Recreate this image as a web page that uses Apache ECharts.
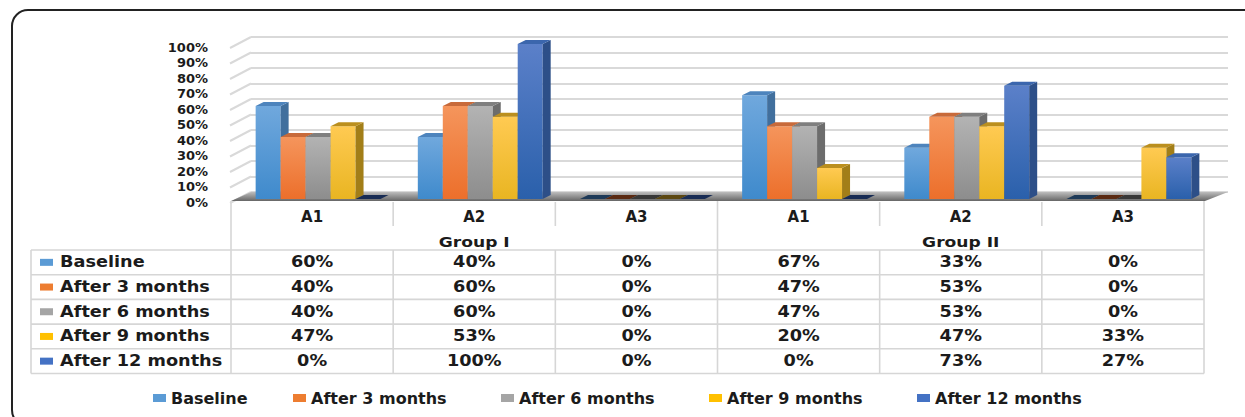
<!DOCTYPE html>
<html>
<head>
<meta charset="utf-8">
<title>Groups I and II</title>
<script src="https://cdn.jsdelivr.net/npm/echarts@6/dist/echarts.min.js"></script>
<style>
  html, body { margin: 0; padding: 0; background: #fff; }
  #chart { width: 1245px; height: 417px; }
</style>
</head>
<body>
<div id="chart"></div>
<script>
// data
var categories = ['A1', 'A2', 'A3', 'A1', 'A2', 'A3'];
var groups = ['Group I', 'Group II'];
var seriesNames = ['Baseline', 'After 3 months', 'After 6 months', 'After 9 months', 'After 12 months'];
var baseline = [60, 40, 0, 67, 33, 0];
var after3 = [40, 60, 0, 47, 53, 0];
var after6 = [40, 60, 0, 47, 53, 0];
var after9 = [47, 53, 0, 20, 47, 33];
var after12 = [0, 100, 0, 0, 73, 27];
var yTicks = [0, 10, 20, 30, 40, 50, 60, 70, 80, 90, 100];
var allValues = [baseline, after3, after6, after9, after12];

// colours: [front top, front bottom, side, top, flat (zero) top]
var shades = [
  ['#70a8dd', '#3f8acc', '#416f9d', '#4d84bd', '#1e3a58'],
  ['#f5955c', '#ec6f2b', '#b35a24', '#c86a3a', '#5a2a12'],
  ['#b3b3b3', '#8d8d8d', '#6c6c6c', '#7f7f7f', '#383838'],
  ['#ffca52', '#e9b522', '#a27e18', '#bb8f1e', '#5c4812'],
  ['#5b80c9', '#2a60ab', '#2d4f88', '#3b66ad', '#182c54']
];
var legendColors = ['#5b9bd5', '#ed7d31', '#a5a5a5', '#ffc000', '#4472c4'];

// layout
var FONT = 'DejaVu Sans';
var TXT = '#1b1b1b';
var colLeft = 231, colRight = 1204;
var colW = (colRight - colLeft) / categories.length;
var labelLeft = 31;
var headTop = 201, rowTop = 250, rowH = 24.7;
var SHIFT = 6, DEPTH_X = 8, DEPTH_Y = 4, BAR_FRAC = 0.154;
var legendLeft = [153, 293, 501, 709, 917];

function makeRender(k) {
  return function (params, api) {
    var cat = api.value(0), v = api.value(1);
    var base = api.coord([cat, 0]);
    var top = api.coord([cat, v]);
    var w = api.size([1, 0])[0] * BAR_FRAC;
    var x0 = base[0] + SHIFT + (k - 2.5) * w;
    var yb = base[1], yt = top[1];
    var s = shades[k];
    var kids = [];
    if (v > 0) {
      kids.push({
        type: 'rect',
        shape: { x: x0, y: yt, width: w, height: yb - yt },
        style: { fill: { type: 'linear', x: 0, y: 0, x2: 0, y2: 1,
          colorStops: [{ offset: 0, color: s[0] }, { offset: 1, color: s[1] }] } }
      });
      kids.push({
        type: 'polygon',
        shape: { points: [[x0 + w, yt], [x0 + w + DEPTH_X, yt - DEPTH_Y], [x0 + w + DEPTH_X, yb - DEPTH_Y], [x0 + w, yb]] },
        style: { fill: s[2] }
      });
    }
    kids.push({
      type: 'polygon',
      shape: { points: [[x0, yt], [x0 + DEPTH_X, yt - DEPTH_Y], [x0 + w + DEPTH_X, yt - DEPTH_Y], [x0 + w, yt]] },
      style: { fill: v > 0 ? s[3] : s[4] }
    });
    return { type: 'group', children: kids };
  };
}

// side wall lines, drawn from the back wall ticks
function renderWall(params, api) {
  var p = api.coord([0, api.value(0)]);
  return {
    type: 'line',
    shape: { x1: p[0], y1: p[1], x2: p[0] - 21, y2: p[1] + 11 },
    style: { stroke: '#d9d9d9', lineWidth: 2 }
  };
}

function txt(x, y, text, align, size, scale) {
  return {
    type: 'text', x: x, y: y, scaleX: scale || 1.18, silent: true,
    style: { text: text, align: align, verticalAlign: 'middle', fill: TXT,
      fontFamily: FONT, fontWeight: 'bold', fontSize: size || 15 }
  };
}
function line(x1, y1, x2, y2) {
  return { type: 'line', silent: true, shape: { x1: x1, y1: y1, x2: x2, y2: y2 },
    style: { stroke: '#d6d6d6', lineWidth: 1.6 } };
}

// data table + frame + floor
var g = [];
g.push({ type: 'rect', shape: { x: 12, y: 10, width: 1260, height: 416, r: 16 },
  style: { fill: 'none', stroke: '#222', lineWidth: 2 }, z: 0 });
g.push({ type: 'polygon', z: 1, silent: true,
  shape: { points: [[colLeft, 201], [colRight + 1, 201], [1228, 192], [251, 192]] },
  style: { fill: { type: 'linear', x: 0, y: 0, x2: 0, y2: 1,
    colorStops: [{ offset: 0, color: '#bdbdbd' }, { offset: 1, color: '#666' }] } } });

var tableBottom = rowTop + rowH * seriesNames.length;
var perGroup = categories.length / groups.length;
for (var c = 0; c <= categories.length; c++) {
  var x = colLeft + c * colW;
  var full = (c % perGroup === 0);
  g.push(line(x, full ? headTop : rowTop, x, tableBottom));
  if (!full) g.push(line(x, headTop + 1, x, headTop + 25));
}
g.push(line(labelLeft, rowTop, labelLeft, tableBottom));
for (var r = 0; r <= seriesNames.length; r++) {
  g.push(line(labelLeft, rowTop + r * rowH, colRight, rowTop + r * rowH));
}
groups.forEach(function (name, i) {
  g.push(txt(colLeft + (i + 0.5) * perGroup * colW, 241.5, name, 'center', 14.5));
});
seriesNames.forEach(function (name, r) {
  var cy = rowTop + (r + 0.5) * rowH;
  g.push({ type: 'rect', silent: true, shape: { x: 40, y: cy - 3.5, width: 13, height: 7 },
    style: { fill: legendColors[r] } });
  g.push(txt(60, cy, name, 'left'));
  allValues[r].forEach(function (v, c) {
    g.push(txt(colLeft + (c + 0.5) * colW, cy, v + '%', 'center'));
  });
});

var series = seriesNames.map(function (name, k) {
  return {
    name: name, type: 'custom', xAxisIndex: 0, yAxisIndex: 0, z: 3,
    itemStyle: { color: legendColors[k] },
    renderItem: makeRender(k),
    data: allValues[k].map(function (v, i) { return [i, v]; })
  };
});
series.push({
  type: 'custom', xAxisIndex: 1, yAxisIndex: 1, silent: true, z: 0,
  renderItem: renderWall,
  data: yTicks.map(function (t) { return [t]; }),
  encode: { y: 0 }
});

var chart = echarts.init(document.getElementById('chart'), null, { renderer: 'svg' });
chart.setOption({
  animation: false,
  backgroundColor: '#fff',
  textStyle: { fontFamily: FONT },
  grid: [
    { left: colLeft, width: colRight - colLeft, top: 44, height: 155 },
    { left: 251, width: 977, top: 37, height: 155 },
    { left: colLeft, width: 20, top: 47, height: 155 }
  ],
  xAxis: [
    { type: 'category', gridIndex: 0, data: categories,
      axisLine: { show: false }, axisTick: { show: false }, splitLine: { show: false },
      axisLabel: { margin: 10, color: TXT, fontWeight: 'bold', fontSize: 15, fontFamily: FONT } },
    { type: 'value', gridIndex: 1, min: 0, max: 1, show: false },
    { type: 'value', gridIndex: 2, min: 0, max: 1, show: false }
  ],
  yAxis: [
    { type: 'value', gridIndex: 0, min: 0, max: 100, interval: 10, show: false },
    { type: 'value', gridIndex: 1, min: 0, max: 100, interval: 10,
      axisLine: { show: false }, axisTick: { show: false }, axisLabel: { show: false },
      splitLine: { lineStyle: { color: '#d9d9d9', width: 2 } } },
    { type: 'value', gridIndex: 2, min: 0, max: 100, interval: 10,
      axisLine: { show: false }, axisTick: { show: false }, splitLine: { show: false },
      axisLabel: { formatter: '{value}%', margin: 23, lineHeight: 14,
        color: TXT, fontWeight: 'bold', fontSize: 13, fontFamily: FONT } }
  ],
  legend: seriesNames.map(function (name, i) {
    return { data: [name], left: legendLeft[i], top: 390, itemWidth: 13, itemHeight: 8,
      icon: 'rect', padding: 0, selectedMode: false,
      textStyle: { color: TXT, fontWeight: 'bold', fontSize: 16, fontFamily: FONT } };
  }),
  graphic: g,
  series: series
});
</script>
</body>
</html>
